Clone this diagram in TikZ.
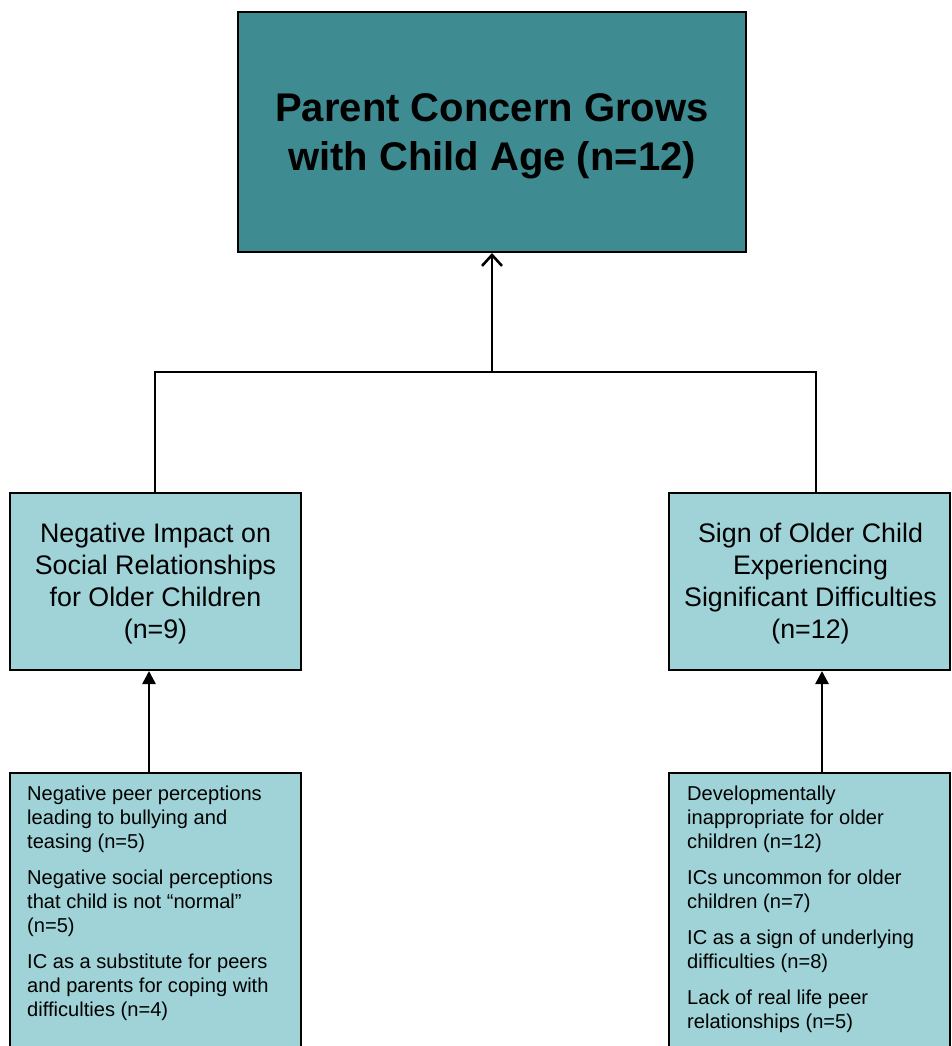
\documentclass[tikz,border=0pt]{standalone}
\usepackage{fontspec}
\setmainfont{Liberation Sans}
\usetikzlibrary{arrows.meta}
\definecolor{teal1}{HTML}{3E8C92}
\definecolor{light1}{HTML}{9FD3D7}
\tikzset{
  boxline/.style={draw=black, line width=2pt},
  midbox/.style={boxline, fill=light1, minimum height=177pt, inner sep=0pt},
  midtext/.style={align=center, inner sep=0pt, font=\fontsize{26.8}{32}\selectfont},
  lowbox/.style={boxline, fill=light1, inner sep=0pt},
  conn/.style={line width=2.6pt},
  listtext/.style={anchor=north west, inner sep=0pt, align=left,
     font=\fontsize{20.1}{24}\selectfont}
}
\begin{document}
\begin{tikzpicture}[x=1pt,y=-1pt]
\useasboundingbox (0,0) rectangle (951,1046);
\clip (0,0) rectangle (951,1046);
\fill[white] (0,0) rectangle (951,1046);

\node[boxline, fill=teal1, minimum width=508pt, minimum height=240pt, inner sep=0pt] (top) at (492,132) {};
\node[font=\fontsize{40}{49}\selectfont\bfseries, align=center, inner sep=0pt] (title) at (492,136)
  {Parent Concern Grows\\with Child Age (n=12)};

\node[midbox, minimum width=291pt] (L) at (155.5,581.5) {};
\node[midtext] (Lt) at (155.5,584)
  {Negative Impact on\\Social Relationships\\for Older Children\\(n=9)};
\node[midbox, minimum width=281pt] (R) at (809.5,581.5) {};
\node[midtext] (Rt) at (810.5,584)
  {Sign of Older Child\\Experiencing\\Significant Difficulties\\(n=12)};

\node[lowbox, minimum width=291pt, minimum height=300pt, anchor=north] (BL) at (155.5,772) {};
\node[lowbox, minimum width=281pt, minimum height=300pt, anchor=north] (BR) at (809.5,772) {};

\node[listtext] (tl) at (27,786) {%
Negative peer perceptions\\leading to bullying and\\teasing (n=5)\\[12pt]
Negative social perceptions\\that child is not “normal”\\(n=5)\\[12pt]
IC as a substitute for peers\\and parents for coping with\\difficulties (n=4)};

\node[listtext] (tr) at (687,786) {%
Developmentally\\inappropriate for older\\children (n=12)\\[12pt]
ICs uncommon for older\\children (n=7)\\[12pt]
IC as a sign of underlying\\difficulties (n=8)\\[12pt]
Lack of real life peer\\relationships (n=5)};

\coordinate (j) at (492,372);
\draw[conn] ([xshift=-0.5pt]L.north) |- (j) -| ([xshift=6.5pt]R.north);
\draw[conn, -{Straight Barb[length=11pt,width=20pt,line width=2.6pt]}] (j) -- (top.south);
\draw[conn, -{Triangle[length=13pt,width=13pt]}] ([xshift=-6.5pt]BL.north) -- ([xshift=-6.5pt]L.south);
\draw[conn, -{Triangle[length=13pt,width=13pt]}] ([xshift=12.5pt]BR.north) -- ([xshift=12.5pt]R.south);
\end{tikzpicture}
\end{document}
